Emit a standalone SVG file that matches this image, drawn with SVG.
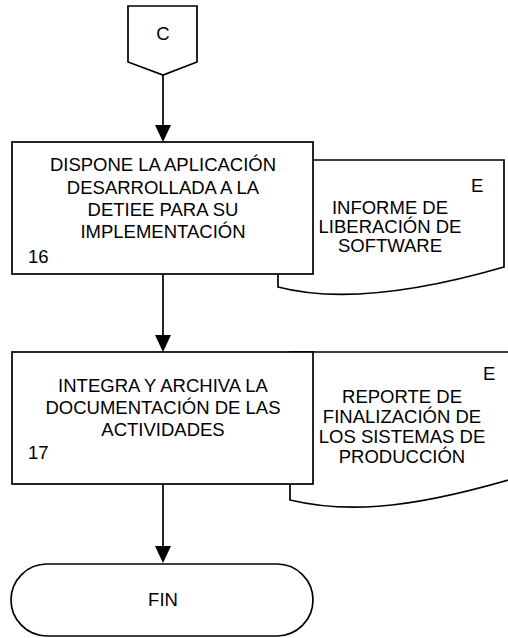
<svg xmlns="http://www.w3.org/2000/svg" width="508" height="638" viewBox="0 0 508 638">
<defs>
<style>
.s{fill:#fff;stroke:#000;stroke-width:1.7}
.t{font-family:"Liberation Sans",Arial,sans-serif;font-size:18.5px;fill:#000}
.m{text-anchor:middle}
.c{fill:none;stroke:#000;stroke-width:1.7}
.a{fill:#000}
</style>
</defs>
<rect width="508" height="638" fill="#fff"/>
<g id="connectors">
<line class="c" x1="163" y1="75" x2="163" y2="126"/>
<path class="a" d="M155,125 L171,125 L163,142 Z"/>
<line class="c" x1="163" y1="274" x2="163" y2="336"/>
<path class="a" d="M155,335 L171,335 L163,352 Z"/>
<line class="c" x1="163" y1="484" x2="163" y2="547"/>
<path class="a" d="M155,546 L171,546 L163,563 Z"/>
</g>
<g id="conn-C">
<path class="s" d="M128,6 H197 V62 L163,75 L128,62 Z"/>
<text class="t m" x="163" y="40">C</text>
</g>
<g id="doc16">
<path class="s" d="M278,160 H504 V267 C390,300 320,298 278,287 Z"/>
<text class="t" x="471" y="192">E</text>
<text class="t m" x="390" y="214">INFORME DE</text>
<text class="t m" x="390" y="233">LIBERACIÓN DE</text>
<text class="t m" x="390" y="252">SOFTWARE</text>
</g>
<g id="step16">
<rect class="s" x="12" y="142" width="301" height="132"/>
<text class="t m" x="163" y="171">DISPONE LA APLICACIÓN</text>
<text class="t m" x="163" y="194">DESARROLLADA A LA</text>
<text class="t m" x="163" y="216">DETIEE PARA SU</text>
<text class="t m" x="163" y="238">IMPLEMENTACIÓN</text>
<text class="t" x="28" y="263">16</text>
</g>
<g id="doc17">
<path class="s" d="M290,352 H515 V478 C400,512 340,512 290,500 Z"/>
<text class="t" x="483" y="380">E</text>
<text class="t m" x="402" y="403">REPORTE DE</text>
<text class="t m" x="402" y="423">FINALIZACIÓN DE</text>
<text class="t m" x="402" y="443">LOS SISTEMAS DE</text>
<text class="t m" x="402" y="463">PRODUCCIÓN</text>
</g>
<g id="step17">
<rect class="s" x="12" y="352" width="301" height="132"/>
<text class="t m" x="163" y="392">INTEGRA Y ARCHIVA LA</text>
<text class="t m" x="163" y="414">DOCUMENTACIÓN DE LAS</text>
<text class="t m" x="163" y="436">ACTIVIDADES</text>
<text class="t" x="28" y="459">17</text>
</g>
<g id="fin">
<rect class="s" x="11" y="564" width="302" height="72" rx="36" ry="36"/>
<text class="t m" x="163" y="606">FIN</text>
</g>
</svg>
